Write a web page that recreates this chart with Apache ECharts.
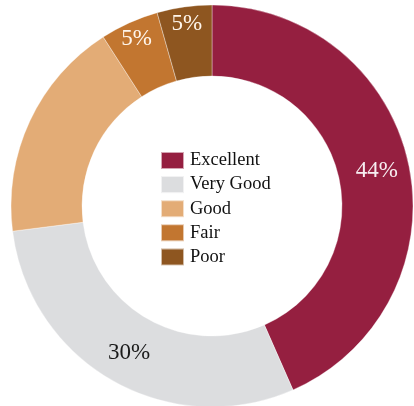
<!DOCTYPE html>
<html><head><meta charset="utf-8">
<script src="https://cdn.jsdelivr.net/npm/echarts@6/dist/echarts.min.js"></script>
<style>html,body{margin:0;padding:0;background:#fff}#c{width:414px;height:406px}</style>
</head><body><div id="c"></div>
<script>
const categories = ["Excellent", "Very Good", "Good", "Fair", "Poor"];
const values = [43.4, 29.6, 17.9, 4.7, 4.4];
const labelTexts = ["44%", "30%", "", "5%", "5%"];
const colors = ["#951F40", "#DCDDDF", "#E3AC76", "#C27630", "#8E5620"];
const labelColors = ["#F7EEF1", "#1a1a1a", "#1a1a1a", "#FFF6EC", "#FFF6EC"];
const outerLabel = [false, false, false, true, true];

const font = "Liberation Serif";
const chart = echarts.init(document.getElementById('c'));
chart.setOption({
  animation: false,
  textStyle: { fontFamily: font },
  legend: {
    orient: 'vertical', left: 160, top: 151, padding: 0,
    itemWidth: 23, itemHeight: 17, itemGap: 5.1, icon: 'rect',
    data: categories,
    textStyle: { fontFamily: font, fontSize: 18.5, color: '#111', padding: [0,0,0,1] }
  },
  series: [{
    type: 'pie', center: [212, 206], radius: [130, 201],
    startAngle: 90, clockwise: true, silent: true,
    itemStyle: { borderColor: 'rgba(255,255,255,0.6)', borderWidth: 0.6 },
    label: { position: 'inside', fontFamily: font, fontSize: 23 },
    labelLine: { show: false },
    data: categories.map((n, i) => ({
      name: n, value: values[i], itemStyle: { color: colors[i] },
      label: { show: !outerLabel[i] && labelTexts[i] !== '', formatter: labelTexts[i], color: labelColors[i], fontFamily: font }
    }))
  }, {
    type: 'pie', center: [212, 206], radius: [160, 201],
    startAngle: 90, clockwise: true, silent: true,
    itemStyle: { color: 'rgba(0,0,0,0)' },
    label: { position: 'inside', fontFamily: font, fontSize: 23 },
    labelLine: { show: false },
    data: categories.map((n, i) => ({
      name: n, value: values[i], itemStyle: { color: 'rgba(0,0,0,0)' },
      label: { show: outerLabel[i], formatter: labelTexts[i], color: labelColors[i], fontFamily: font }
    }))
  }]
});
</script></body></html>
